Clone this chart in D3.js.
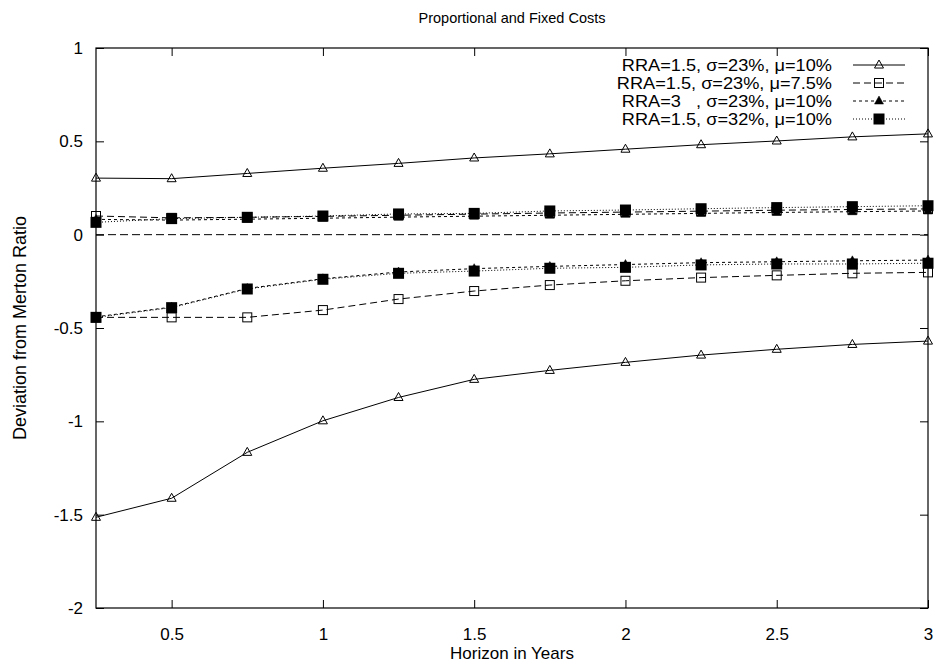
<!DOCTYPE html>
<html>
<head>
<meta charset="utf-8">
<script src="https://cdn.jsdelivr.net/npm/d3@7"></script>
<style>
  html, body { margin: 0; padding: 0; background: #fff; }
  svg { display: block; font-family: "Liberation Sans", Arial, Helvetica, sans-serif; }
  text { fill: #000; white-space: pre; }
</style>
</head>
<body>
<svg id="chart" width="938" height="666"></svg>
<script>
// ---- data ----
const horizon = [0.25, 0.5, 0.75, 1, 1.25, 1.5, 1.75, 2, 2.25, 2.5, 2.75, 3];

const s1Upper = [0.303, 0.300, 0.328, 0.356, 0.382, 0.411, 0.433, 0.458, 0.482, 0.502, 0.524, 0.540];
const s1Lower = [-1.514, -1.412, -1.166, -0.997, -0.872, -0.775, -0.727, -0.684, -0.645, -0.614, -0.588, -0.570];
const s2Upper = [0.100, 0.090, 0.093, 0.098, 0.104, 0.110, 0.116, 0.121, 0.126, 0.131, 0.135, 0.138];
const s2Lower = [-0.443, -0.443, -0.443, -0.404, -0.345, -0.302, -0.270, -0.247, -0.230, -0.218, -0.207, -0.202];
const s3Upper = [0.082, 0.078, 0.083, 0.088, 0.094, 0.099, 0.104, 0.109, 0.114, 0.119, 0.123, 0.127];
const s3Lower = [-0.440, -0.388, -0.288, -0.236, -0.200, -0.182, -0.170, -0.160, -0.150, -0.145, -0.140, -0.136];
const s4Upper = [0.066, 0.086, 0.093, 0.100, 0.111, 0.114, 0.127, 0.132, 0.139, 0.145, 0.150, 0.155];
const s4Lower = [-0.443, -0.391, -0.291, -0.239, -0.207, -0.195, -0.180, -0.175, -0.162, -0.157, -0.157, -0.153];

const legendLabels = [
  "RRA=1.5, \u03c3=23%, \u03bc=10%",
  "RRA=1.5, \u03c3=23%, \u03bc=7.5%",
  "RRA=3   , \u03c3=23%, \u03bc=10%",
  "RRA=1.5, \u03c3=32%, \u03bc=10%"
];

const xTickValues = [0.5, 1, 1.5, 2, 2.5, 3];
const xTickLabels = ["0.5", "1", "1.5", "2", "2.5", "3"];
const yTickValues = [-2, -1.5, -1, -0.5, 0, 0.5, 1];
const yTickLabels = ["-2", "-1.5", "-1", "-0.5", "0", "0.5", "1"];

const titleText = "Proportional and Fixed Costs";
const xLabelText = "Horizon in Years";
const yLabelText = "Deviation from Merton Ratio";

// ---- layout ----
const W = 938, H = 666;
const plot = { left: 96, right: 928, top: 48, bottom: 608 };

const svg = d3.select("#chart");
const x = d3.scaleLinear().domain([0.25, 3]).range([plot.left, plot.right]);
const y = d3.scaleLinear().domain([-2, 1]).range([plot.bottom, plot.top]);

// series styles
const styles = [
  { dash: null, marker: "triOpen" },
  { dash: "7,4", marker: "sqOpen" },
  { dash: "3,3", marker: "triFill" },
  { dash: "1,2", marker: "sqFill" }
];
const seriesData = [
  [s1Upper, s1Lower],
  [s2Upper, s2Lower],
  [s3Upper, s3Lower],
  [s4Upper, s4Lower]
];

function drawMarker(g, type, cx, cy) {
  if (type === "triOpen") {
    const w = 9, h = 8;
    g.append("path")
      .attr("d", `M${cx},${cy - h * 0.62}L${cx + w / 2},${cy + h * 0.38}L${cx - w / 2},${cy + h * 0.38}Z`)
      .attr("fill", "none").attr("stroke", "#000").attr("stroke-width", 1);
  } else if (type === "triFill") {
    const w = 9, h = 8;
    g.append("path")
      .attr("d", `M${cx},${cy - h * 0.62}L${cx + w / 2},${cy + h * 0.38}L${cx - w / 2},${cy + h * 0.38}Z`)
      .attr("fill", "#000").attr("stroke", "#000").attr("stroke-width", 0.5);
  } else if (type === "sqOpen") {
    const s = 9;
    g.append("rect").attr("x", cx - s / 2).attr("y", cy - s / 2).attr("width", s).attr("height", s)
      .attr("fill", "none").attr("stroke", "#000").attr("stroke-width", 1);
  } else if (type === "sqFill") {
    const s = 11;
    g.append("rect").attr("x", cx - s / 2).attr("y", cy - s / 2).attr("width", s).attr("height", s)
      .attr("fill", "#000");
  }
}

// zero line
svg.append("line")
  .attr("x1", x(0.25)).attr("x2", x(3))
  .attr("y1", y(0)).attr("y2", y(0))
  .attr("stroke", "#000").attr("stroke-width", 1).attr("stroke-dasharray", "8,4");

// series
const line = d3.line().x((d, i) => x(horizon[i])).y(d => y(d));
seriesData.forEach((pair, si) => {
  const g = svg.append("g");
  pair.forEach(vals => {
    g.append("path").datum(vals)
      .attr("d", line)
      .attr("fill", "none").attr("stroke", "#000").attr("stroke-width", 1)
      .attr("stroke-dasharray", styles[si].dash);
    vals.forEach((v, i) => drawMarker(g, styles[si].marker, x(horizon[i]), y(v)));
  });
});

// axes
const axB = d3.axisBottom(x).tickValues(xTickValues).tickFormat((d, i) => xTickLabels[i])
  .tickSizeInner(-8).tickSizeOuter(0).tickPadding(20);
const axT = d3.axisTop(x).tickValues(xTickValues).tickFormat("")
  .tickSizeInner(-8).tickSizeOuter(0);
const axL = d3.axisLeft(y).tickValues(yTickValues).tickFormat((d, i) => yTickLabels[i])
  .tickSizeInner(-8).tickSizeOuter(0).tickPadding(13);
const axR = d3.axisRight(y).tickValues(yTickValues).tickFormat("")
  .tickSizeInner(-8).tickSizeOuter(0);

function styleAxis(g) {
  g.select(".domain").remove();
  g.selectAll(".tick line").attr("stroke", "#000").attr("stroke-width", 1);
  g.selectAll(".tick text").attr("fill", "#000").attr("font-size", 17)
    .attr("font-family", "Liberation Sans, Arial, sans-serif");
}
svg.append("g").attr("transform", `translate(0,${plot.bottom})`).call(axB).call(styleAxis);
svg.append("g").attr("transform", `translate(0,${plot.top})`).call(axT).call(styleAxis);
svg.append("g").attr("transform", `translate(${plot.left},0)`).call(axL).call(styleAxis);
svg.append("g").attr("transform", `translate(${plot.right},0)`).call(axR).call(styleAxis);

// frame
svg.append("rect")
  .attr("x", plot.left).attr("y", plot.top)
  .attr("width", plot.right - plot.left).attr("height", plot.bottom - plot.top)
  .attr("fill", "none").attr("stroke", "#000").attr("stroke-width", 1.2);

// legend
const legTextRight = 832, legLineX1 = 853, legLineX2 = 905, legTop = 65, legStep = 18;
legendLabels.forEach((lab, i) => {
  const ly = legTop + i * legStep;
  svg.append("text")
    .attr("transform", `translate(${legTextRight},${ly}) scale(1.07,1)`)
    .attr("dy", "0.36em")
    .attr("text-anchor", "end").attr("font-size", 17).text(lab);
  svg.append("line").attr("x1", legLineX1).attr("x2", legLineX2).attr("y1", ly).attr("y2", ly)
    .attr("stroke", "#000").attr("stroke-width", 1).attr("stroke-dasharray", styles[i].dash);
  drawMarker(svg, styles[i].marker, (legLineX1 + legLineX2) / 2, ly);
});

// title and labels
svg.append("text").attr("x", (plot.left + plot.right) / 2).attr("y", 23)
  .attr("text-anchor", "middle").attr("font-size", 14.5).text(titleText);
svg.append("text").attr("x", (plot.left + plot.right) / 2).attr("y", 659)
  .attr("text-anchor", "middle").attr("font-size", 17).text(xLabelText);
svg.append("text")
  .attr("transform", `translate(26,${(plot.top + plot.bottom) / 2}) rotate(-90)`)
  .attr("text-anchor", "middle").attr("font-size", 18).text(yLabelText);
</script>
</body>
</html>
